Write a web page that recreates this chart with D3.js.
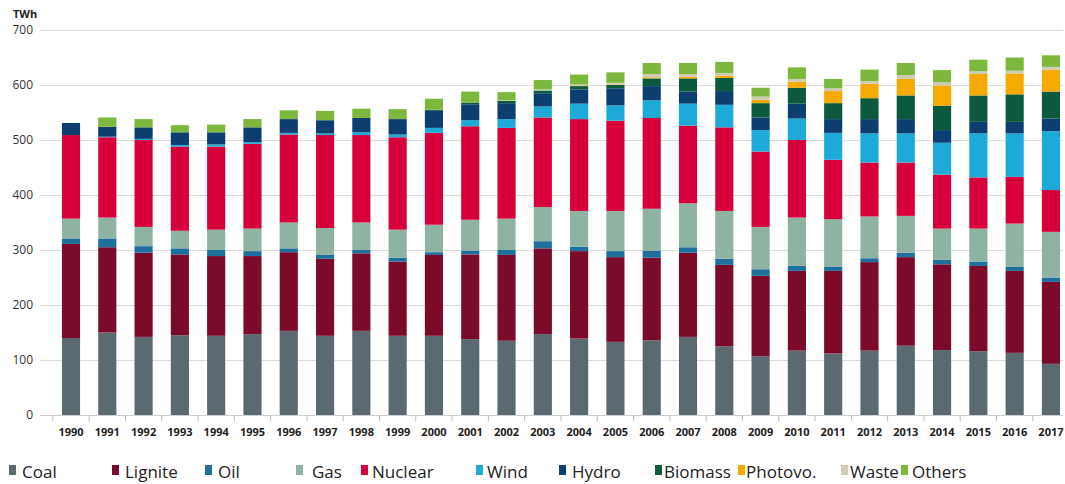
<!DOCTYPE html>
<html><head><meta charset="utf-8">
<script src="https://cdn.jsdelivr.net/npm/d3@7"></script>
<style>html,body{margin:0;padding:0;background:#fff;}svg{display:block;}</style>
</head><body>
<svg id="chart" width="1065" height="484"></svg>
<script>
const years = [1990,1991,1992,1993,1994,1995,1996,1997,1998,1999,2000,2001,2002,2003,2004,2005,2006,2007,2008,2009,2010,2011,2012,2013,2014,2015,2016,2017];
const coal    = [140,150,142,145,144,147,153,144,153,144,144,138,135,147,139,133,136,142,125,107,117,112,117,126,118,116,113,93];
const lignite = [171,155,153,147,145,142,143,140,141,135,147,154,156,156,159,154,150,153,148,146,145,150,161,161,156,155,149,149];
const oil     = [10,16,12,11,11,9,7,7,6,7,5,7,9,13,8,11,13,10,11,12,9,8,7,8,8,8,8,8];
const gas     = [36,38,35,32,37,41,47,49,50,51,50,56,57,62,65,73,76,80,87,77,88,86,76,67,57,60,78,83];
const nuclear = [152,146,158,153,151,154,160,169,159,168,167,170,165,163,167,164,165,141,152,137,141,108,98,97,98,93,85,76];
const wind    = [0,1,2,3,4,3,3,3,5,5,9,11,16,20,28,28,32,40,41,39,39,49,53,53,58,80,79,107];
const hydro   = [22,18,21,23,22,27,25,24,26,28,31,29,29,24,26,31,26,22,25,23,27,25,26,26,23,21,21,23];
const biomass = [0,0,0,0,0,0,0,0,0,0,2,3,4,5,6,6,14,24,24,26,29,29,38,43,44,48,50,49];
const photovo = [0,0,0,0,0,0,0,0,0,0,0,0,0,0,1,1,2,3,4,6,11,22,26,30,37,39,38,40];
const waste   = [0,0,0,0,0,0,0,0,0,0,0,0,1,2,2,3,6,5,5,6,5,5,5,7,6,5,5,5];
const others  = [0,17,15,13,14,15,16,17,17,18,20,20,15,17,18,19,20,20,20,16,21,17,21,22,22,21,24,21];

const seriesNames  = ["Coal","Lignite","Oil","Gas","Nuclear","Wind","Hydro","Biomass","Photovo.","Waste","Others"];
const seriesValues = [coal,lignite,oil,gas,nuclear,wind,hydro,biomass,photovo,waste,others];
const yTicks = [0,100,200,300,400,500,600,700];

const colors = ["#5b6970","#7c0b2b","#1f6f9c","#8fb3a3","#d8003b","#1eaad8","#0c3f70","#0b5a3e","#f6aa00","#cfcab4","#7bb83b"];
const legendTextX = [22,125,218,312,372,487,572,664,746,850,912];
const legendGap   = [13,13,13,16,11,11,13,9,8,9,11];

const svg = d3.select("#chart");
const rows = years.map((y,i)=>{const r={year:y}; seriesNames.forEach((n,j)=>r[n]=seriesValues[j][i]); return r;});
const stack = d3.stack().keys(seriesNames)(rows);

const x = d3.scaleBand().domain(years).range([52.85,1069.1]).paddingInner(0.5).paddingOuter(0.25);
const y = d3.scaleLinear().domain([0,700]).range([415,30]);

// gridlines
svg.append("g").selectAll("line").data(yTicks).join("line")
  .attr("x1",40).attr("x2",1063).attr("y1",d=>y(d)+0.5).attr("y2",d=>y(d)+0.5)
  .attr("stroke","#dcdcdc").attr("stroke-width",1);

// y labels
svg.append("g").selectAll("text").data(yTicks).join("text")
  .attr("x",33).attr("y",d=>y(d)).attr("dy","0.35em").attr("text-anchor","end")
  .attr("font-family","Open Sans, sans-serif").attr("font-size",12).attr("fill","#333").text(d=>d);
svg.append("text").attr("x",13).attr("y",18).attr("font-family","Open Sans, sans-serif")
  .attr("font-size",11).attr("font-weight","bold").attr("fill","#222").text("TWh");

// bars
svg.append("g").selectAll("g").data(stack).join("g")
  .attr("fill",(d,i)=>colors[i])
  .selectAll("rect").data(d=>d).join("rect")
  .attr("x",d=>x(d.data.year)).attr("width",x.bandwidth())
  .attr("y",d=>y(d[1])).attr("height",d=>Math.max(0,y(d[0])-y(d[1])));

// baseline ticks at band boundaries
svg.append("line").attr("x1",40).attr("x2",1063).attr("y1",415.5).attr("y2",415.5).attr("stroke","#cfcfcf");
svg.append("g").selectAll("line").data(years).join("line")
  .attr("x1",d=>x(d)-x.step()*0.25).attr("x2",d=>x(d)-x.step()*0.25)
  .attr("y1",415).attr("y2",421).attr("stroke","#bbb");

// x labels
const xAxis = d3.axisBottom(x).tickSize(0).tickPadding(0);
const gx = svg.append("g").attr("transform","translate(0,428)").call(xAxis);
gx.select(".domain").remove();
gx.selectAll("text").attr("font-family","Open Sans, sans-serif").attr("font-size",11)
  .attr("font-weight","bold").attr("fill","#222");

// legend
const lg = svg.append("g").selectAll("g").data(seriesNames).join("g")
  .attr("transform",(d,i)=>`translate(${legendTextX[i]},0)`);
lg.append("rect").attr("x",(d,i)=>-legendGap[i]).attr("y",465).attr("width",7).attr("height",10).attr("fill",(d,i)=>colors[i]);
lg.append("text").attr("x",0).attr("y",478).attr("font-family","Open Sans, sans-serif")
  .attr("font-size",17).attr("fill","#222").text(d=>d);
</script>
</body></html>
